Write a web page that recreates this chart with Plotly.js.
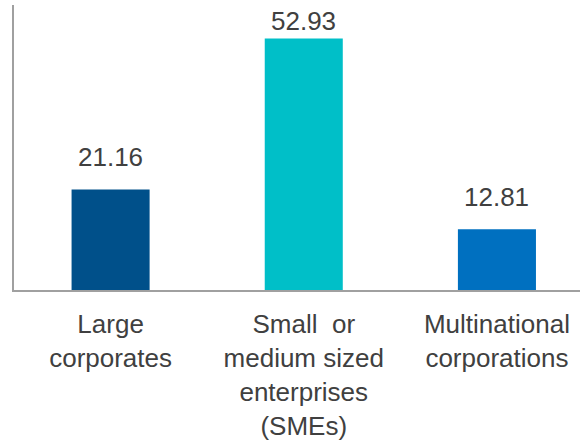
<!DOCTYPE html>
<html>
<head>
<meta charset="utf-8">
<script src="https://cdn.plot.ly/plotly-3.0.1.min.js"></script>
<style>html,body{margin:0;padding:0;background:#fff;}#chart{width:580px;height:443px;}</style>
</head>
<body>
<div id="chart"></div>
<script>
const categories = ["Large", "SMEs", "Multinational"];
const tickLabels = ["Large<br>corporates", "Small  or<br>medium sized<br>enterprises<br>(SMEs)", "Multinational<br>corporations"];
const values = [21.16, 52.93, 12.81];
const valueLabels = ["21.16", "52.93", "12.81"];
const barColors = ["#00508A", "#00BFC8", "#0070C0"];

const FONT = "Liberation Sans, Arial, sans-serif";
const yMax = 60;
const plotH = 443 - 5 - 153;
const pxPerUnit = plotH / yMax;
const labelBoxH = 34;

const trace = {
  type: "bar",
  x: categories,
  y: values,
  marker: {color: barColors},
  hoverinfo: "none"
};

const annotations = categories.map((c, i) => ({
  x: c, y: values[i], text: valueLabels[i],
  showarrow: false, yanchor: "bottom",
  yshift: Math.min(15, (yMax - values[i]) * pxPerUnit - labelBoxH + 1),
  font: {family: FONT, size: 26, color: "#404040"}
}));

const layout = {
  width: 580, height: 443,
  margin: {l: 14, r: 0, t: 5, b: 153},
  paper_bgcolor: "#fff", plot_bgcolor: "#fff",
  showlegend: false,
  bargap: 0.596,
  xaxis: {
    type: "category",
    range: [-0.5, 2.43],
    tickvals: categories,
    ticktext: tickLabels,
    showline: true, linecolor: "#A0A0A0", linewidth: 2,
    showgrid: false, zeroline: false,
    ticks: "outside", ticklen: 10, tickcolor: "rgba(0,0,0,0)",
    tickfont: {family: FONT, size: 26, color: "#404040"}
  },
  yaxis: {
    range: [0, yMax],
    showline: true, linecolor: "#A0A0A0", linewidth: 2,
    showgrid: false, zeroline: false, showticklabels: false, ticks: ""
  },
  annotations: annotations
};

Plotly.newPlot("chart", [trace], layout, {staticPlot: true, displayModeBar: false});
</script>
</body>
</html>
